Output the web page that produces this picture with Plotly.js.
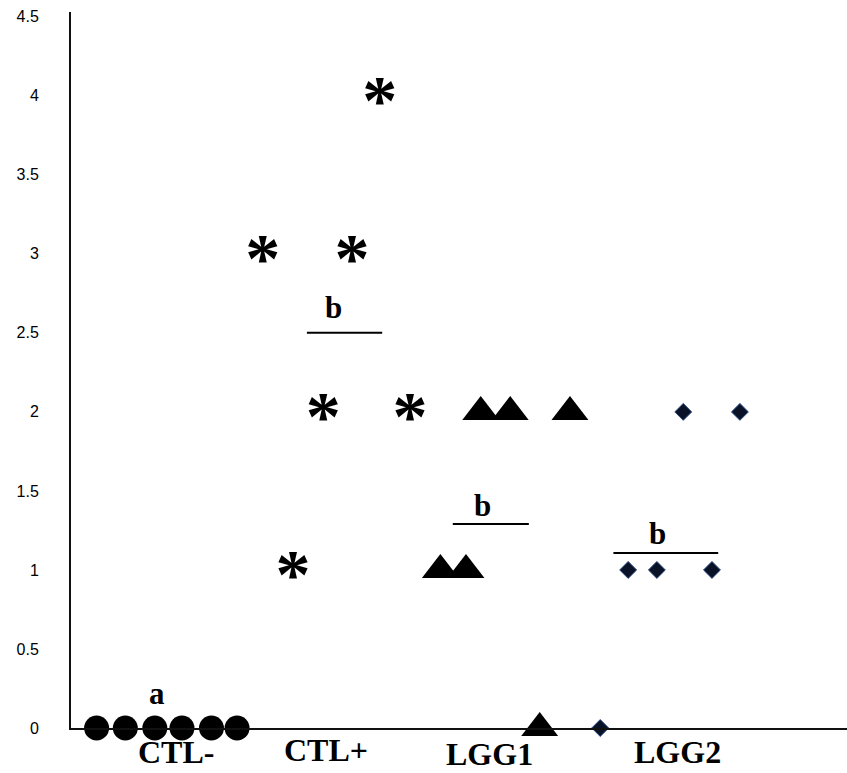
<!DOCTYPE html>
<html>
<head>
<meta charset="utf-8">
<script src="https://cdn.plot.ly/plotly-3.0.1.min.js"></script>
<style>html,body{margin:0;padding:0;background:#fff;}#chart{width:847px;height:773px;}</style>
</head>
<body>
<div id="chart"></div>
<script>
// Group labels and their horizontal positions (x units); vertical in paper units
var groupLabels = ['CTL-', 'CTL+', 'LGG1', 'LGG2'];
var groupLabelX = [1.35, 3.29, 5.39, 7.82];
var groupLabelY = [-0.034, -0.031, -0.037, -0.034];

// CTL- (circles)
var ctlNegX = [0.33, 0.70, 1.08, 1.43, 1.81, 2.14];
var ctlNegY = [0, 0, 0, 0, 0, 0];
// CTL+ (asterisks)
var ctlPosX = [2.47, 3.62, 3.98, 3.25, 4.37, 2.86];
var ctlPosY = [3, 3, 4, 2, 2, 1];
// LGG1 (triangles)
var lgg1X = [5.28, 5.66, 6.43, 4.76, 5.09, 6.04];
var lgg1Y = [2, 2, 2, 1, 1, 0];
// LGG2 (diamonds)
var lgg2X = [7.89, 8.62, 7.18, 7.55, 8.26, 6.82];
var lgg2Y = [2, 2, 1, 1, 1, 0];

// Significance letters and bars
var sigLetters = ['a', 'b', 'b', 'b'];
var sigLetterX = [1.11, 3.38, 5.30, 7.56];
var sigLetterY = [0.22, 2.66, 1.41, 1.23];
var sigBarX0 = [null, 3.04, 4.92, 6.99];
var sigBarX1 = [null, 4.01, 5.90, 8.34];
var sigBarY = [null, 2.5, 1.29, 1.107];

var yTicks = [0, 0.5, 1, 1.5, 2, 2.5, 3, 3.5, 4, 4.5];
var yMax = 4.53;
var glyphShift = 0.065; // compensates the asterisk glyph sitting high in its text box

var traces = [
  {x: ctlNegX, y: ctlNegY, mode: 'markers', type: 'scatter',
   marker: {symbol: 'circle', size: 25, color: '#000'}, cliponaxis: false, hoverinfo: 'skip'},
  {x: ctlPosX, y: ctlPosY, mode: 'text', type: 'scatter', yaxis: 'y2',
   text: ctlPosX.map(function(){return '*';}), textposition: 'middle center',
   textfont: {family: 'Liberation Serif', size: 70, color: '#000', weight: 'bold'},
   cliponaxis: false, hoverinfo: 'skip'},
  {x: lgg1X, y: lgg1Y, mode: 'markers', type: 'scatter',
   marker: {symbol: 'triangle-up', size: 32, color: '#000'}, cliponaxis: false, hoverinfo: 'skip'},
  {x: lgg2X, y: lgg2Y, mode: 'markers', type: 'scatter',
   marker: {symbol: 'diamond', size: 13, color: '#0a1228', line: {width: 1, color: '#2a4a80'}}, cliponaxis: false, hoverinfo: 'skip'}
];

var annotations = [];
groupLabels.forEach(function(t, i){
  annotations.push({x: groupLabelX[i], y: groupLabelY[i], xref: 'x', yref: 'paper', text: '<b>' + t + '</b>',
    showarrow: false, xanchor: 'center', yanchor: 'middle',
    font: {family: 'Liberation Serif', size: 32, color: '#000'}});
});
sigLetters.forEach(function(t, i){
  annotations.push({x: sigLetterX[i], y: sigLetterY[i], xref: 'x', yref: 'y', text: '<b>' + t + '</b>',
    showarrow: false, xanchor: 'center', yanchor: 'middle',
    font: {family: 'Liberation Serif', size: 31, color: '#000'}});
});

var shapes = [];
sigBarY.forEach(function(yv, i){
  if (yv === null) return;
  shapes.push({type: 'line', xref: 'x', yref: 'y', x0: sigBarX0[i], x1: sigBarX1[i], y0: yv, y1: yv,
    line: {color: '#000', width: 2}});
});

var layout = {
  width: 847, height: 773,
  margin: {l: 71, r: 0, t: 12, b: 45},
  paper_bgcolor: '#fff', plot_bgcolor: '#fff',
  showlegend: false,
  xaxis: {range: [0, 10], showgrid: false, zeroline: false, showticklabels: false, ticks: '',
          showline: true, linecolor: '#111', linewidth: 2},
  yaxis: {range: [0, yMax], showgrid: false, zeroline: false, tickvals: yTicks,
          ticktext: yTicks.map(String), ticks: '', ticklabelstandoff: 27,
          tickfont: {family: 'Liberation Sans', size: 16, color: '#000'},
          showline: true, linecolor: '#111', linewidth: 2},
  yaxis2: {overlaying: 'y', range: [glyphShift, yMax + glyphShift], visible: false,
           showgrid: false, zeroline: false},
  annotations: annotations,
  shapes: shapes
};

Plotly.newPlot('chart', traces, layout, {displayModeBar: false, staticPlot: true});
</script>
</body>
</html>
